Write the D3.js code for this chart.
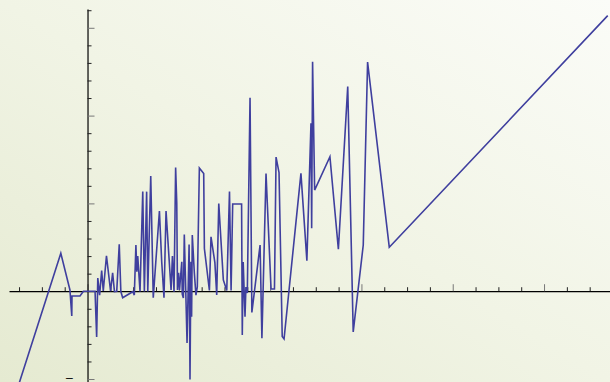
<!DOCTYPE html>
<html>
<head>
<meta charset="utf-8">
<script src="https://cdn.jsdelivr.net/npm/d3@7"></script>
<style>
  html, body { margin: 0; padding: 0; background: #f4f6ea; }
  svg { display: block; }
</style>
</head>
<body>
<svg id="chart" width="610" height="382"></svg>
<script>
// Series: x positions and y values of the plotted path
const xValues = [
  -3.02, -1.17, -0.77, -0.69, -0.68, -0.33, -0.18, 0.33, 0.40, 0.45,
  0.53, 0.62, 0.69, 0.83, 1.01, 1.10, 1.18, 1.28, 1.39, 1.46,
  1.54, 1.98, 2.05, 2.12, 2.16, 2.20, 2.30, 2.42, 2.49, 2.59,
  2.64, 2.77, 2.88, 3.15, 3.25, 3.35, 3.44, 3.66, 3.72, 3.79,
  3.86, 3.91, 3.94, 3.99, 4.03, 4.13, 4.15, 4.20, 4.24, 4.31,
  4.36, 4.45, 4.49, 4.53, 4.56, 4.59, 4.68, 4.75, 4.81, 4.90,
  5.09, 5.12, 5.34, 5.41, 5.58, 5.66, 5.75, 5.95, 6.10, 6.22,
  6.29, 6.36, 6.75, 6.78, 6.82, 6.90, 6.94, 7.00, 7.12, 7.20,
  7.56, 7.64, 7.82, 8.04, 8.19, 8.26, 8.39, 8.53, 8.61, 9.35,
  9.61, 9.79, 9.82, 9.86, 9.95, 10.62, 10.99, 11.40, 11.64, 12.08,
  12.27, 13.22, 22.79
];
const yValues = [
  -5.34, 2.16, 0.07, -1.41, -0.27, -0.27, 0.00, 0.00, -2.61, 0.75,
  -0.22, 1.17, 0.01, 2.02, 0.00, 1.05, -0.02, 0.00, 2.67, -0.02,
  -0.37, -0.03, -0.22, 2.63, 1.11, 2.00, -0.02, 5.67, -0.02, 5.67,
  -0.02, 6.56, -0.37, 4.57, 1.68, -0.37, 4.57, 0.07, 2.00, -0.03,
  7.04, 5.01, 0.07, 1.05, 0.07, 1.68, -0.16, -0.39, 3.23, -0.31,
  -2.95, 2.66, -5.03, 1.68, -1.45, 3.20, 1.04, -0.22, 0.24, 7.02,
  6.70, 2.43, 0.04, 3.10, 1.63, -0.22, 4.99, 0.64, 0.04, 5.67,
  0.04, 4.97, 4.97, -2.49, 1.66, -1.45, 0.24, -0.10, 11.02, -1.21,
  2.63, -2.68, 6.70, 0.13, 0.13, 7.64, 6.76, -2.58, -2.72, 6.71,
  1.74, 9.56, 3.58, 13.07, 5.76, 7.66, 2.39, 11.65, -2.32, 2.63,
  13.05, 2.50, 15.69
];

// Axis ticks
const xMajorTicks = [0, 4, 8, 12, 16, 20];
const xMinorTicks = d3.range(-3, 23).filter(v => v % 4 !== 0);
const yMajorTicks = [-5, 0, 5, 10, 15];
const yMinorTicks = d3.range(-5, 17).filter(v => v % 5 !== 0);
const cornerLabel = "\u2212";

const W = 610, H = 382;
const svg = d3.select("#chart");

// Soft diagonal background wash
const defs = svg.append("defs");
const grad = defs.append("linearGradient")
  .attr("id", "bg")
  .attr("x1", "0%").attr("y1", "100%")
  .attr("x2", "100%").attr("y2", "0%");
grad.append("stop").attr("offset", "0%").attr("stop-color", "#e5ead1");
grad.append("stop").attr("offset", "50%").attr("stop-color", "#f1f4e5");
grad.append("stop").attr("offset", "100%").attr("stop-color", "#fbfcf8");
svg.append("rect").attr("width", W).attr("height", H).attr("fill", "url(#bg)");

const x = d3.scaleLinear().domain([-3.44, 22.89]).range([9, 610]);
const y = d3.scaleLinear().domain([-5.17, 16.07]).range([382, 9]);

// X axis through y = 0, ticks pointing up
const xAxisG = svg.append("g").attr("transform", `translate(0,${y(0)})`);
xAxisG.append("g")
  .call(d3.axisTop(x).tickValues(xMinorTicks).tickSize(4).tickSizeOuter(0).tickFormat(""))
  .call(g => g.selectAll(".tick line").attr("stroke", "#222"));
xAxisG.append("g")
  .call(d3.axisTop(x).tickValues(xMajorTicks).tickSize(7).tickSizeOuter(0).tickFormat(""))
  .call(g => g.selectAll(".tick line").attr("stroke", "#777"))
  .call(g => g.select(".domain").remove());
xAxisG.selectAll(".domain").attr("stroke", "#000").attr("stroke-width", 1.2);

// Y axis through x = 0, ticks pointing right
const yAxisG = svg.append("g").attr("transform", `translate(${x(0)},0)`);
yAxisG.append("g")
  .call(d3.axisRight(y).tickValues(yMinorTicks).tickSize(4).tickSizeOuter(0).tickFormat(""))
  .call(g => g.selectAll(".tick line").attr("stroke", "#222"));
yAxisG.append("g")
  .call(d3.axisRight(y).tickValues(yMajorTicks).tickSize(7).tickSizeOuter(0).tickFormat(""))
  .call(g => g.selectAll(".tick line").attr("stroke", "#777"))
  .call(g => g.select(".domain").remove());
yAxisG.selectAll(".domain").attr("stroke", "#000").attr("stroke-width", 1.2);

// Lone label fragment near the lower end of the y axis
svg.append("text")
  .attr("x", x(-0.8))
  .attr("y", y(-5) + 3)
  .attr("text-anchor", "middle")
  .attr("font-family", "DejaVu Sans, sans-serif")
  .attr("font-size", 11)
  .attr("fill", "#111")
  .text(cornerLabel);

// The data path
const pts = xValues.map((v, i) => [v, yValues[i]]);
const line = d3.line().x(d => x(d[0])).y(d => y(d[1]));
svg.append("path")
  .datum(pts)
  .attr("fill", "none")
  .attr("stroke", "#3f3f9e")
  .attr("stroke-width", 1.6)
  .attr("stroke-linejoin", "miter")
  .attr("stroke-miterlimit", 4)
  .attr("d", line);
</script>
</body>
</html>
